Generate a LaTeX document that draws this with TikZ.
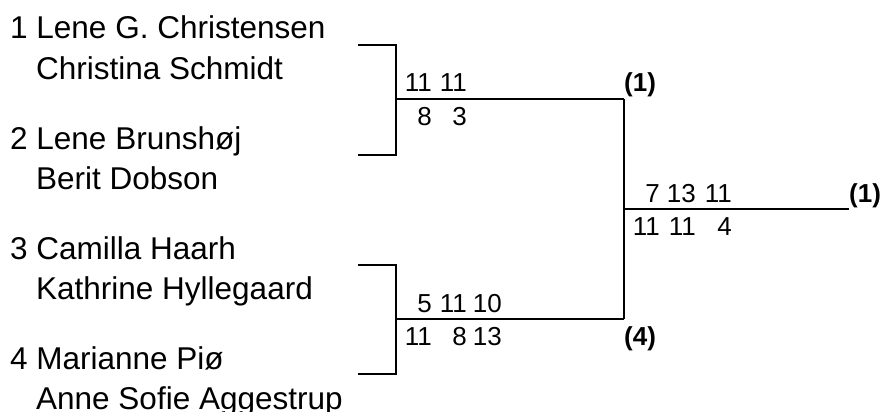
\documentclass[tikz,border=0pt]{standalone}
\usepackage{fontspec}
\setmainfont{Liberation Sans}
\begin{document}
\begin{tikzpicture}[x=1pt,y=-1pt,
  teamname/.style={anchor=base west,inner sep=0pt,font=\fontsize{31.5}{36}\selectfont},
  score/.style={anchor=base east,inner sep=0pt,font=\fontsize{26}{30}\selectfont},
  seedlabel/.style={anchor=base west,inner sep=0pt,font=\fontsize{26}{30}\selectfont\bfseries},
  wire/.style={line width=1.5pt}]
\useasboundingbox (0,0) rectangle (886,412);
% team names
\node[teamname] (t1a) at (10,39) {1 Lene G. Christensen};
\node[teamname] (t1b) at (36,79) {Christina Schmidt};
\node[teamname] (t2a) at (10,149) {2 Lene Brunshøj};
\node[teamname] (t2b) at (36,189) {Berit Dobson};
\node[teamname] (t3a) at (10,259) {3 Camilla Haarh};
\node[teamname] (t3b) at (36,299) {Kathrine Hyllegaard};
\node[teamname] (t4a) at (10,369) {4 Marianne Piø};
\node[teamname] (t4b) at (36,409) {Anne Sofie Aggestrup};
% bracket coordinates
\coordinate (e1) at (358,45);
\coordinate (e2) at (358,155);
\coordinate (m1) at (396,99);
\coordinate (w1) at (624,99);
\coordinate (e3) at (358,265);
\coordinate (e4) at (358,374);
\coordinate (m2) at (396,319);
\coordinate (w2) at (624,319);
\coordinate (f) at (624,209);
\coordinate (fe) at (849,209);
% bracket lines
\draw[wire] (e1) -| (m1) |- (e2);
\draw[wire] (m1) -- (w1);
\draw[wire] (e3) -| (m2) |- (e4);
\draw[wire] (m2) -- (w2);
\draw[wire] (w1) -- (w2);
\draw[wire] (f) -- (fe);
% semifinal 1 scores
\node[score] (s1a1) at (432,92) {11};
\node[score] (s1a2) at (467,92) {11};
\node[score] (s1b1) at (432,125) {8};
\node[score] (s1b2) at (467,125) {3};
% semifinal 2 scores
\node[score] (s2a1) at (432,312) {5};
\node[score] (s2a2) at (467,312) {11};
\node[score] (s2a3) at (502,312) {10};
\node[score] (s2b1) at (432,345) {11};
\node[score] (s2b2) at (467,345) {8};
\node[score] (s2b3) at (502,345) {13};
% final scores
\node[score] (fa1) at (660,202) {7};
\node[score] (fa2) at (696,202) {13};
\node[score] (fa3) at (732,202) {11};
\node[score] (fb1) at (660,235) {11};
\node[score] (fb2) at (696,235) {11};
\node[score] (fb3) at (732,235) {4};
% seed labels
\node[seedlabel] (w1lab) at (624,92) {(1)};
\node[seedlabel] (w2lab) at (624,345) {(4)};
\node[seedlabel] (flab) at (849,202) {(1)};
\end{tikzpicture}
\end{document}
